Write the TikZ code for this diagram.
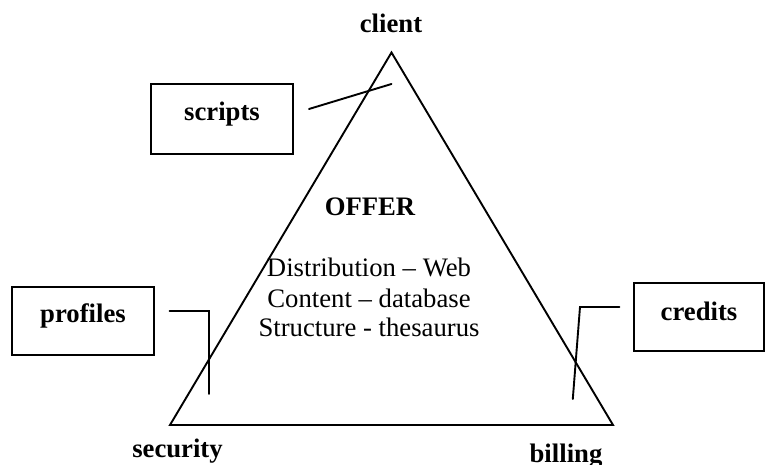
\documentclass[tikz,border=0pt]{standalone}
\usepackage{fontspec}
\setmainfont{Liberation Serif}
\begin{document}
\begin{tikzpicture}[x=1pt,y=-1pt,
  ln/.style={line width=1.9pt,line cap=round,line join=miter},
  boxst/.style={draw,line width=1.9pt,rectangle,inner sep=0pt},
  lbl/.style={font=\fontsize{26.7}{30}\selectfont\bfseries,anchor=base,inner sep=0pt},
  body/.style={font=\fontsize{26.7}{30}\selectfont,anchor=base,inner sep=0pt}]
\useasboundingbox (0,0) rectangle (766,465);
% triangle
\coordinate (top) at (391.5,52.5);
\coordinate (bl) at (170,425);
\coordinate (br) at (613,425);
\draw[ln] (top) -- (bl) -- (br) -- cycle;
% corner labels
\node[lbl] (client) at (391,33) {client};
\node[lbl] (security) at (177.5,457) {security};
\node[lbl] (billing) at (566,462.5) {billing};
% boxes
\node[boxst,minimum width=142pt,minimum height=70pt] (scriptsbox) at (222,119) {};
\node[lbl] (scripts) at (222,121) {scripts};
\node[boxst,minimum width=142pt,minimum height=68pt] (profilesbox) at (83,321) {};
\node[lbl] (profiles) at (83,323) {profiles};
\node[boxst,minimum width=130pt,minimum height=67.5pt] (creditsbox) at (699,317) {};
\node[lbl] (credits) at (699,320) {credits};
% centre text
\node[lbl] (offer) at (370,215.7) {OFFER};
\node[body] (l1) at (369,276.7) {Distribution – Web};
\node[body] (l2) at (369,307.7) {Content – database};
\node[body] (l3) at (369,336.7) {Structure - thesaurus};
% connectors
\coordinate (s1) at (309,109);
\coordinate (s2) at (391.5,84);
\draw[ln] (s1) -- (s2);
\coordinate (p1) at (169.5,310.7);
\coordinate (p2) at (209.3,310.7);
\coordinate (p3) at (209.3,394);
\draw[ln] (p1) -- (p2) -- (p3);
\coordinate (c1) at (619.5,307);
\coordinate (c2) at (580,307);
\coordinate (c3) at (572.8,399);
\draw[ln] (c1) -- (c2) -- (c3);
\end{tikzpicture}
\end{document}
